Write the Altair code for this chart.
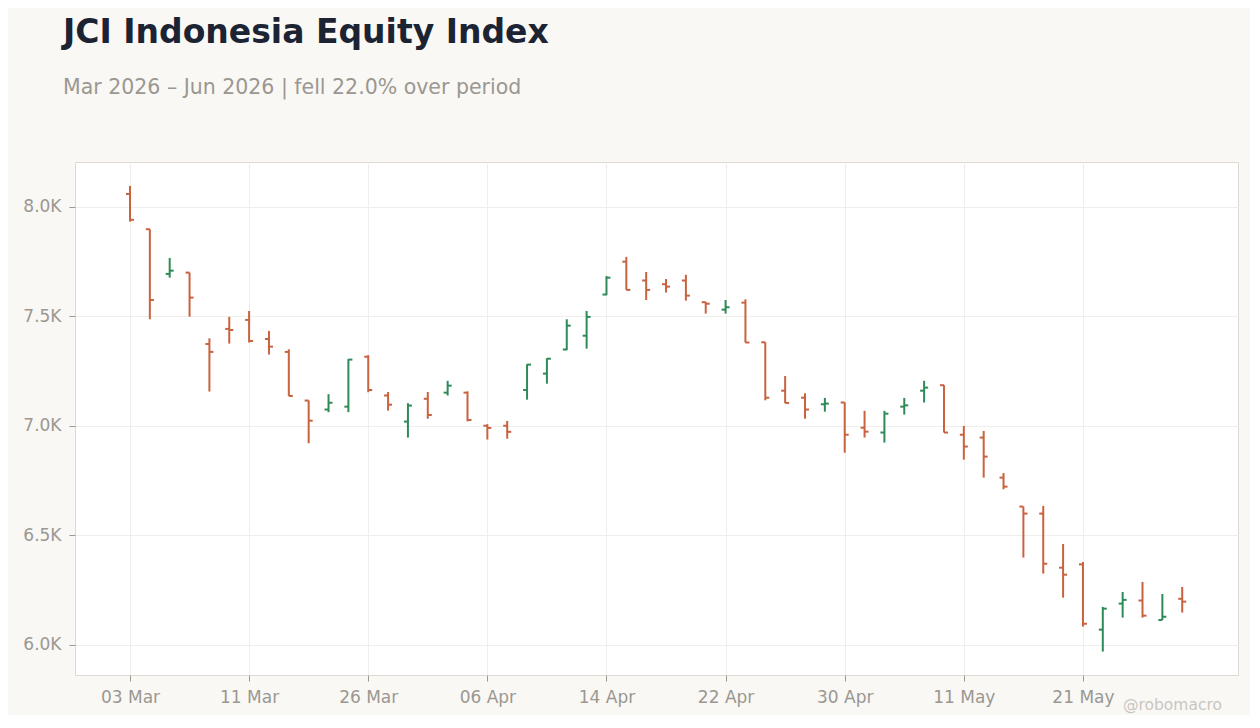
import pandas as pd
import altair as alt

# Trading days shown on the chart (one bar each)
dates = [
    '03 Mar', '04 Mar', '05 Mar', '06 Mar', '09 Mar', '10 Mar', '11 Mar', '12 Mar', '13 Mar', '16 Mar',
    '17 Mar', '25 Mar', '26 Mar', '27 Mar', '30 Mar', '31 Mar', '01 Apr', '02 Apr', '06 Apr', '07 Apr',
    '08 Apr', '09 Apr', '10 Apr', '13 Apr', '14 Apr', '15 Apr', '16 Apr', '17 Apr', '20 Apr', '21 Apr',
    '22 Apr', '23 Apr', '24 Apr', '27 Apr', '28 Apr', '29 Apr', '30 Apr', '04 May', '05 May', '06 May',
    '07 May', '08 May', '11 May', '12 May', '13 May', '18 May', '19 May', '20 May', '21 May', '22 May',
    '26 May', '28 May', '29 May', '02 Jun'
]

# OHLC values
open_ = [8059, 7898, 7694, 7700, 7374, 7443, 7484, 7397, 7338, 7116,
         7075, 7088, 7316, 7139, 7020, 7124, 7152, 7152, 7001, 7001,
         7164, 7239, 7349, 7412, 7600, 7750, 7664, 7647, 7664, 7565,
         7531, 7563, 7382, 7161, 7129, 7099, 7107, 6992, 6970, 7088,
         7161, 7186, 6960, 6947, 6764, 6632, 6600, 6353, 6368, 6070,
         6189, 6203, 6114, 6211]
high = [8096, 7898, 7767, 7700, 7400, 7498, 7525, 7434, 7350, 7116,
        7145, 7305, 7323, 7155, 7104, 7155, 7206, 7158, 7008, 7023,
        7282, 7309, 7487, 7525, 7684, 7772, 7703, 7671, 7690, 7566,
        7575, 7578, 7382, 7228, 7149, 7128, 7107, 7069, 7069, 7128,
        7206, 7186, 7000, 6977, 6785, 6632, 6635, 6461, 6379, 6174,
        6242, 6288, 6233, 6265]
low = [7933, 7487, 7677, 7499, 7157, 7376, 7381, 7326, 7137, 6921,
       7063, 7063, 7154, 7070, 6947, 7033, 7139, 7021, 6938, 6942,
       7120, 7193, 7346, 7353, 7597, 7621, 7575, 7609, 7572, 7513,
       7513, 7381, 7117, 7104, 7033, 7065, 6878, 6947, 6924, 7052,
       7107, 6970, 6846, 6764, 6711, 6399, 6326, 6216, 6084, 5970,
       6125, 6125, 6114, 6148]
close = [7941, 7575, 7709, 7586, 7338, 7438, 7388, 7362, 7137, 7024,
         7106, 7303, 7164, 7097, 7093, 7050, 7184, 7027, 6991, 6973,
         7280, 7307, 7458, 7498, 7677, 7621, 7621, 7636, 7595, 7558,
         7542, 7381, 7129, 7105, 7075, 7102, 6960, 6974, 7056, 7094,
         7175, 6970, 6906, 6860, 6723, 6600, 6371, 6321, 6097, 6166,
         6206, 6134, 6129, 6198]

tick_values = [0, 6, 12, 18, 24, 30, 36, 42, 48]

data = pd.DataFrame({
    'idx': range(len(dates)),
    'date': dates,
    'open': open_,
    'high': high,
    'low': low,
    'close': close,
})
data['dir'] = ['up' if c >= o else 'down' for o, c in zip(data['open'], data['close'])]

UP = '#2e8b57'
DOWN = '#c8623f'
GREY = '#9b9791'

label_array = '[' + ','.join("'" + d + "'" for d in dates) + ']'

x_enc = alt.X(
    'idx:Q',
    title=None,
    scale=alt.Scale(domain=[-2.77, 55.81], nice=False, zero=False),
    axis=alt.Axis(
        values=tick_values,
        labelExpr=label_array + '[datum.value]',
        labelFontSize=17,
        labelColor=GREY,
        labelFont='DejaVu Sans',
        labelPadding=8,
        tickColor=GREY,
        tickSize=6,
        domain=False,
        grid=True,
        gridColor='#f0eeeb',
    ),
)
color_enc = alt.Color(
    'dir:N',
    scale=alt.Scale(domain=['up', 'down'], range=[UP, DOWN]),
    legend=None,
)
y_scale = alt.Scale(domain=[5863, 8205], nice=False, zero=False)

base = alt.Chart(data)

wicks = base.mark_rule(strokeWidth=2).encode(
    x=x_enc,
    y=alt.Y(
        'low:Q',
        title=None,
        scale=y_scale,
        axis=alt.Axis(
            values=[6000, 6500, 7000, 7500, 8000],
            labelExpr="format(datum.value / 1000, '.1f') + 'K'",
            labelFontSize=17,
            labelColor=GREY,
            labelFont='DejaVu Sans',
            labelPadding=8,
            tickColor=GREY,
            tickSize=6,
            domain=False,
            grid=True,
            gridColor='#f0eeeb',
        ),
    ),
    y2='high:Q',
    color=color_enc,
    tooltip=['date', 'open', 'high', 'low', 'close'],
)

open_ticks = base.mark_rule(strokeWidth=2, xOffset=-4, x2Offset=0).encode(
    x='idx:Q', x2='idx:Q', y='open:Q', color=color_enc
)
close_ticks = base.mark_rule(strokeWidth=2, xOffset=0, x2Offset=4).encode(
    x='idx:Q', x2='idx:Q', y='close:Q', color=color_enc
)

credit = alt.Chart(pd.DataFrame({'t': ['@robomacro']})).mark_text(
    align='right', baseline='middle', fontSize=15.5, font='DejaVu Sans', color='#cac6c0'
).encode(text='t:N', x=alt.value(1147), y=alt.value(543))

chart = alt.layer(wicks, open_ticks, close_ticks, credit).properties(
    width=1163,
    height=513,
    padding={'left': 67, 'top': 154, 'right': 12, 'bottom': 40},
    autosize=alt.AutoSizeParams(type='none'),
    background='#f9f8f5',
    title=alt.TitleParams(
        text='JCI Indonesia Equity Index',
        subtitle='Mar 2026 \u2013 Jun 2026 | fell 22.0% over period',
        anchor='start',
        frame='group',
        dx=-12,
        offset=64,
        font='DejaVu Sans',
        fontSize=33,
        fontWeight='bold',
        color='#1c2433',
        subtitleFont='DejaVu Sans',
        subtitleFontSize=20.5,
        subtitleColor=GREY,
        subtitlePadding=28,
    ),
).configure_view(
    fill='white',
    stroke='#dedad3',
    strokeWidth=1,
)

chart.save('out.html', embed_options={'renderer': 'svg', 'actions': False})
